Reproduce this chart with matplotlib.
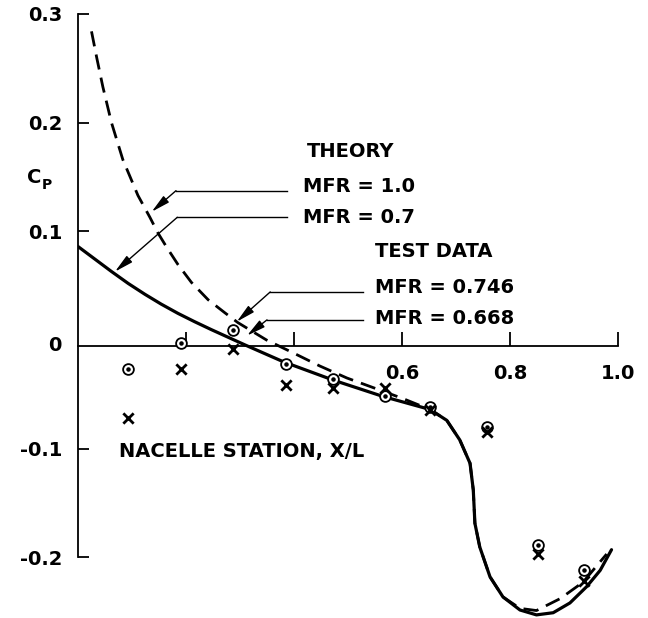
import matplotlib
matplotlib.use('Agg')
import matplotlib.pyplot as plt

plt.rcParams.update({
    "font.family": ["DejaVu Sans"],
    "font.weight": "bold",
    "font.size": 14,
})

# theory, MFR = 1.0 (solid)
theory10_x = [0.0, 0.031, 0.062, 0.093, 0.124, 0.154, 0.185, 0.216, 0.247, 0.278, 0.309, 0.38,
              0.473, 0.565, 0.652, 0.683, 0.707, 0.726, 0.732, 0.735, 0.744, 0.763, 0.787, 0.8185,
              0.849, 0.88, 0.911, 0.942, 0.967, 0.988]
theory10_cp = [0.086, 0.0745, 0.063, 0.052, 0.042, 0.033, 0.0245, 0.0168, 0.0095, 0.0025, -0.0045, -0.020,
               -0.037, -0.052, -0.064, -0.074, -0.092, -0.1135, -0.138, -0.1687, -0.1905, -0.218, -0.2365, -0.2485,
               -0.253, -0.251, -0.242, -0.227, -0.212, -0.193]

# theory, MFR = 0.7 (dashed)
theory07_x = [0.025, 0.035, 0.046, 0.062, 0.083, 0.111, 0.133, 0.148, 0.164, 0.185, 0.21, 0.241,
              0.272, 0.296, 0.349, 0.399, 0.448, 0.498, 0.553, 0.602, 0.652, 0.683, 0.707, 0.726,
              0.732, 0.735, 0.744, 0.763, 0.787, 0.8185, 0.849, 0.893, 0.935, 0.979]
theory07_cp = [0.284, 0.259, 0.233, 0.200, 0.166, 0.133, 0.113, 0.0985, 0.0855, 0.0695, 0.053, 0.037,
               0.025, 0.016, 0.0, -0.012, -0.024, -0.035, -0.045, -0.054, -0.064, -0.074, -0.092, -0.1135,
               -0.138, -0.1687, -0.1905, -0.218, -0.2365, -0.247, -0.249, -0.238, -0.223, -0.197]

# test data
station_x = [0.092, 0.19, 0.287, 0.386, 0.473, 0.568, 0.652, 0.757, 0.851, 0.937]
cp_746 = [-0.027, -0.003, 0.009, -0.022, -0.036, -0.052, -0.062, -0.080, -0.189, -0.212]
cp_668 = [-0.072, -0.027, -0.008, -0.041, -0.044, -0.044, -0.064, -0.085, -0.197, -0.222]

# the original hand-drawn x axis sits slightly below the scale's zero
baseline = -0.0055

fig = plt.figure(figsize=(6.48, 6.18), dpi=100)
ax = fig.add_axes([78 / 648, -4.5 / 618, 567 / 648, 619.4 / 618])
ax.set_xlim(0, 1.05)
ax.set_ylim(-0.26, 0.31)

ax.plot(theory10_x, theory10_cp, color='black', lw=2.3, solid_capstyle='round')
ax.plot(theory07_x, theory07_cp, color='black', lw=2.0, dashes=(5.5, 3))

ax.scatter(station_x, cp_746, s=60, facecolors='white', edgecolors='black', linewidths=1.3, zorder=3)
ax.scatter(station_x, cp_746, s=5, color='black', zorder=4)
ax.scatter(station_x, cp_668, s=55, marker='x', color='black', linewidths=2.0, zorder=3)

for s in ['top', 'right']:
    ax.spines[s].set_visible(False)
ax.spines['left'].set_position(('data', 0))
ax.spines['left'].set_bounds(-0.2, 0.3)
ax.spines['bottom'].set_position(('data', baseline))
ax.spines['bottom'].set_bounds(0, 1.0)
ax.spines['left'].set_linewidth(1.3)
ax.spines['bottom'].set_linewidth(1.3)

ax.set_yticks([-0.2, -0.1, 0.1, 0.2, 0.3])
ax.set_yticklabels(['-0.2', '-0.1', '0.1', '0.2', '0.3'])
ax.set_xticks([0.2, 0.4, 0.6, 0.8, 1.0])
ax.set_xticklabels(['', '', '0.6', '0.8', '1.0'])
ax.tick_params(axis='y', direction='in', length=8, width=1.3, pad=11)
ax.tick_params(axis='x', direction='in', length=10, width=1.3, pad=13)
ax.text(-0.03, baseline, '0', ha='right', va='center')

# labels
ax.text(-0.068, 0.1495, 'C', ha='right', va='center')
ax.text(-0.068, 0.1425, 'P', ha='left', va='center', fontsize=10)
ax.text(0.076, -0.1025, 'NACELLE STATION, X/L', ha='left', va='center')

ax.text(0.424, 0.1735, 'THEORY', ha='left', va='center')
ax.text(0.417, 0.141, 'MFR = 1.0', ha='left', va='center')
ax.text(0.417, 0.1125, 'MFR = 0.7', ha='left', va='center')
ax.text(0.55, 0.081, 'TEST DATA', ha='left', va='center')
ax.text(0.55, 0.0485, 'MFR = 0.746', ha='left', va='center')
ax.text(0.55, 0.0195, 'MFR = 0.668', ha='left', va='center')

# leader lines: (start of horizontal, corner, arrow tip)
leaders = [
    ((0.387, 0.1374), (0.1815, 0.1374), (0.1365, 0.118)),
    ((0.387, 0.1129), (0.1839, 0.1129), (0.0685, 0.0629)),
    ((0.528, 0.0442), (0.356, 0.0442), (0.294, 0.0168)),
    ((0.528, 0.0185), (0.35, 0.0185), (0.313, 0.004)),
]
for start, corner, tip in leaders:
    ax.plot([start[0], corner[0]], [start[1], corner[1]], color='black', lw=1.0)
    ax.annotate('', xy=tip, xytext=corner,
                arrowprops=dict(arrowstyle='-|>,head_length=0.8,head_width=0.18',
                                color='black', lw=1.0, shrinkA=0, shrinkB=0))

fig.savefig('out.png', dpi=100)
